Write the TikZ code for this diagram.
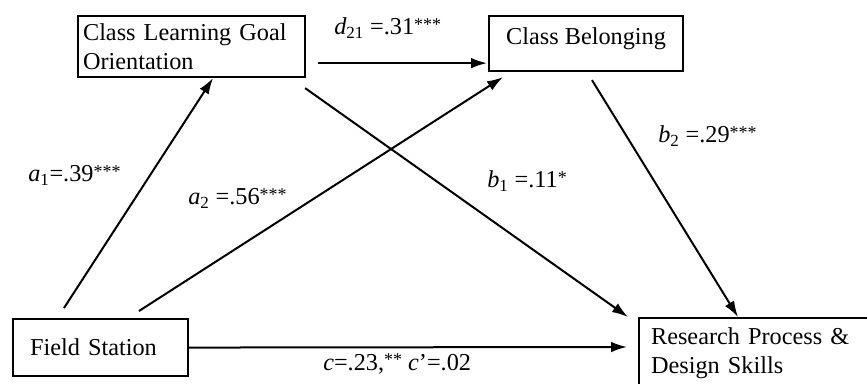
\documentclass[tikz,border=0pt]{standalone}
\usepackage{fontspec}
\setmainfont{Liberation Serif}
\usetikzlibrary{arrows.meta,calc}
\newcommand{\stars}[1]{\raisebox{0.2em}{\fontsize{13.5pt}{13.5pt}\selectfont #1}}
\begin{document}
\begin{tikzpicture}[x=0.75pt,y=-0.75pt,
  font=\fontsize{18.2pt}{21.75pt}\selectfont,
  box/.style={draw, line width=1.6pt, inner sep=0pt, anchor=north west},
  arr/.style={-{Latex[length=12pt,width=8pt]}, line width=1.5pt},
  lab/.style={anchor=base west, inner sep=0pt}]
\useasboundingbox (0,0) rectangle (867,384);
% boxes
\node[box, minimum width=227*0.75pt, minimum height=61*0.75pt,
      text width=217*0.75pt, align=left] (clgo) at (77,15)
      {Class Learning Goal\\Orientation};
\node[box, minimum width=194*0.75pt, minimum height=55*0.75pt,
      text depth=15*0.75pt] (cb) at (488,15) {Class Belonging};
\node[box, minimum width=175*0.75pt, minimum height=57*0.75pt,
      text width=141*0.75pt, align=left] (fs) at (12,318) {Field Station};
\node[box, text width=250*0.75pt, inner xsep=12*0.75pt, inner ysep=10*0.75pt,
      align=left] (rp) at (638,317) {Research Process \&\\Design Skills};
% connectors
\draw[arr] ($(fs.north west)+(52,-10)$) -- ($(clgo.south west)+(136,0)$);
\draw[arr] ($(fs.north west)+(127,-7)$) -- ($(cb.south west)+(15,5)$);
\draw[arr] ($(clgo.south east)+(12,-15)$) -- ($(cb.south west)+(-1,-9)$);
\draw[arr] ($(clgo.south east)+(-1,10)$) -- ($(rp.north west)+(-10,0)$);
\draw[arr] ($(cb.south west)+(104,8)$) -- ($(rp.north west)+(100,0)$);
\draw[arr] (fs.east) -- ($(rp.north west)+(-11,30)$);
% labels
\node[lab] (ld) at (334,35) {\textit{d}\textsubscript{21} =.31\stars{***}};
\node[lab] (la1) at (28,182) {\textit{a}\textsubscript{1}=.39\stars{***}};
\node[lab] (la2) at (188,205) {\textit{a}\textsubscript{2} =.56\stars{***}};
\node[lab] (lb1) at (487,188) {\textit{b}\textsubscript{1} =.11\stars{*}};
\node[lab] (lb2) at (658,143) {\textit{b}\textsubscript{2} =.29\stars{***}};
\node[lab] (lc) at (323,370) {\textit{c}=.23,\stars{**} \textit{c}’=.02};
\end{tikzpicture}
\end{document}
